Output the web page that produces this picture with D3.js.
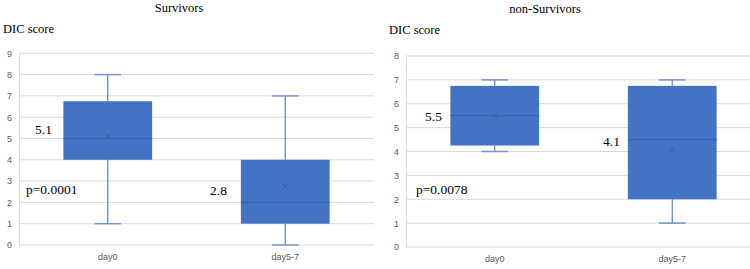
<!DOCTYPE html>
<html>
<head>
<meta charset="utf-8">
<script src="https://cdn.jsdelivr.net/npm/d3@7"></script>
<style>
  body { margin: 0; background: #fff; }
  svg { display: block; }
</style>
</head>
<body>
<div id="chart"></div>
<script>
// Categories on the x axis
const categories = ['day0', 'day5-7'];

// Survivors box stats (per category)
const survMin = [1, 0];
const survQ1 = [4, 1];
const survMedian = [5, 2];
const survQ3 = [6.75, 4];
const survMax = [8, 7];
const survMean = [5.1, 2.75];
const survTicks = [0, 1, 2, 3, 4, 5, 6, 7, 8, 9];

// non-Survivors box stats
const nonMin = [4, 1];
const nonQ1 = [4.25, 2];
const nonMedian = [5.5, 4.5];
const nonQ3 = [6.75, 6.75];
const nonMax = [7, 7];
const nonMean = [5.5, 4.1];
const nonTicks = [0, 1, 2, 3, 4, 5, 6, 7, 8];

// Annotation texts
const survLabels = ['5.1', '2.8'];
const nonLabels = ['5.5', '4.1'];
const survP = 'p=0.0001';
const nonP = 'p=0.0078';

const width = 750;
const height = 269;

const svg = d3.select('#chart')
    .append('svg')
    .attr('width', width)
    .attr('height', height);

function buildRows(mins, q1s, meds, q3s, maxs, means) {
    return categories.map((c, i) => ({
        key: c, min: mins[i], q1: q1s[i], median: meds[i], q3: q3s[i], max: maxs[i], mean: means[i]
    }));
}

function drawPanel(p) {
    const g = svg.append('g');

    const x = d3.scaleBand()
        .domain(categories)
        .range([p.left, p.left + 355])
        .paddingInner(0.5)
        .paddingOuter(0.25);

    const y = d3.scaleLinear()
        .domain([0, d3.max(p.ticks)])
        .range([p.bottom, p.top]);

    const clip = 'clip' + p.id;
    svg.append('clipPath').attr('id', clip)
        .append('rect')
        .attr('x', p.left - 40).attr('y', 0)
        .attr('width', p.clipRight - p.left + 40).attr('height', height);
    g.attr('clip-path', `url(#${clip})`);

    // gridlines
    g.selectAll('.grid')
        .data(p.ticks)
        .enter()
        .append('line')
        .attr('x1', p.left)
        .attr('x2', p.left + 355)
        .attr('y1', d => y(d))
        .attr('y2', d => y(d))
        .attr('stroke', '#d9d9d9')
        .attr('stroke-width', 1);

    // y axis
    const yAxis = d3.axisLeft(y).tickValues(p.ticks).tickSize(0).tickPadding(7);
    const ya = g.append('g')
        .attr('transform', `translate(${p.left},0)`)
        .call(yAxis);
    ya.select('.domain').attr('stroke', '#d9d9d9');
    ya.selectAll('text')
        .attr('fill', '#595959')
        .style('font-family', 'Liberation Sans, Arial, sans-serif')
        .style('font-size', '9px');

    // x axis labels
    const xAxis = d3.axisBottom(x).tickSize(0).tickPadding(9);
    const xa = g.append('g')
        .attr('transform', `translate(0,${p.bottom})`)
        .call(xAxis);
    xa.select('.domain').remove();
    xa.selectAll('text')
        .attr('fill', '#595959')
        .style('font-family', 'Liberation Sans, Arial, sans-serif')
        .style('font-size', '9px');

    const bw = x.bandwidth();
    const cx = d => x(d.key) + bw / 2;
    const capW = bw * 0.3;

    const box = g.selectAll('.box')
        .data(p.rows)
        .enter()
        .append('g');

    // whiskers
    box.append('line')
        .attr('x1', cx).attr('x2', cx)
        .attr('y1', d => y(d.q3)).attr('y2', d => y(d.max))
        .attr('stroke', '#5b7fcb').attr('stroke-width', 1.2);
    box.append('line')
        .attr('x1', cx).attr('x2', cx)
        .attr('y1', d => y(d.q1)).attr('y2', d => y(d.min))
        .attr('stroke', '#5b7fcb').attr('stroke-width', 1.2);
    box.append('line')
        .attr('x1', d => cx(d) - capW / 2).attr('x2', d => cx(d) + capW / 2)
        .attr('y1', d => y(d.max)).attr('y2', d => y(d.max))
        .attr('stroke', '#7394d2').attr('stroke-width', 1.5);
    box.append('line')
        .attr('x1', d => cx(d) - capW / 2).attr('x2', d => cx(d) + capW / 2)
        .attr('y1', d => y(d.min)).attr('y2', d => y(d.min))
        .attr('stroke', '#7394d2').attr('stroke-width', 1.5);

    // box
    box.append('rect')
        .attr('x', d => x(d.key))
        .attr('y', d => y(d.q3))
        .attr('width', bw)
        .attr('height', d => y(d.q1) - y(d.q3))
        .attr('fill', '#4472c4');

    // median
    box.append('line')
        .attr('x1', d => x(d.key)).attr('x2', d => x(d.key) + bw)
        .attr('y1', d => y(d.median)).attr('y2', d => y(d.median))
        .attr('stroke', '#3a63ac').attr('stroke-width', 1.3);

    // mean marker
    const m = 2.6;
    box.append('path')
        .attr('d', d => {
            const px = cx(d), py = y(d.mean);
            return `M${px - m},${py - m}L${px + m},${py + m}M${px - m},${py + m}L${px + m},${py - m}`;
        })
        .attr('stroke', '#3a5d9e')
        .attr('stroke-width', 1);

    // titles
    svg.append('text')
        .attr('x', p.titleX)
        .attr('y', p.titleY)
        .attr('text-anchor', 'middle')
        .style('font-family', 'Liberation Serif, Times New Roman, serif')
        .style('font-size', '12.5px')
        .text(p.title);

    svg.append('text')
        .attr('x', p.yLabelX)
        .attr('y', p.yLabelY)
        .style('font-family', 'Liberation Serif, Times New Roman, serif')
        .style('font-size', '12.5px')
        .text('DIC score');

    // annotations: mean values and p-value
    svg.selectAll(null)
        .data(p.annots)
        .enter()
        .append('text')
        .attr('x', d => d.x)
        .attr('y', d => d.y)
        .style('font-family', 'Liberation Serif, Times New Roman, serif')
        .style('font-size', '13.5px')
        .text(d => d.t);
}

drawPanel({
    id: 'a',
    left: 19,
    clipRight: 374,
    top: 53.3,
    bottom: 245,
    ticks: survTicks,
    rows: buildRows(survMin, survQ1, survMedian, survQ3, survMax, survMean),
    title: 'Survivors',
    titleX: 179, titleY: 12,
    yLabelX: 3, yLabelY: 33,
    annots: [
        { t: survLabels[0], x: 35, y: 134 },
        { t: survP, x: 26, y: 194 },
        { t: survLabels[1], x: 210, y: 195 }
    ]
});

drawPanel({
    id: 'b',
    left: 406,
    clipRight: 750,
    top: 56,
    bottom: 247,
    ticks: nonTicks,
    rows: buildRows(nonMin, nonQ1, nonMedian, nonQ3, nonMax, nonMean),
    title: 'non-Survivors',
    titleX: 545, titleY: 13,
    yLabelX: 389, yLabelY: 34,
    annots: [
        { t: nonLabels[0], x: 425, y: 121 },
        { t: nonP, x: 416, y: 194 },
        { t: nonLabels[1], x: 603, y: 146 }
    ]
});
</script>
</body>
</html>
